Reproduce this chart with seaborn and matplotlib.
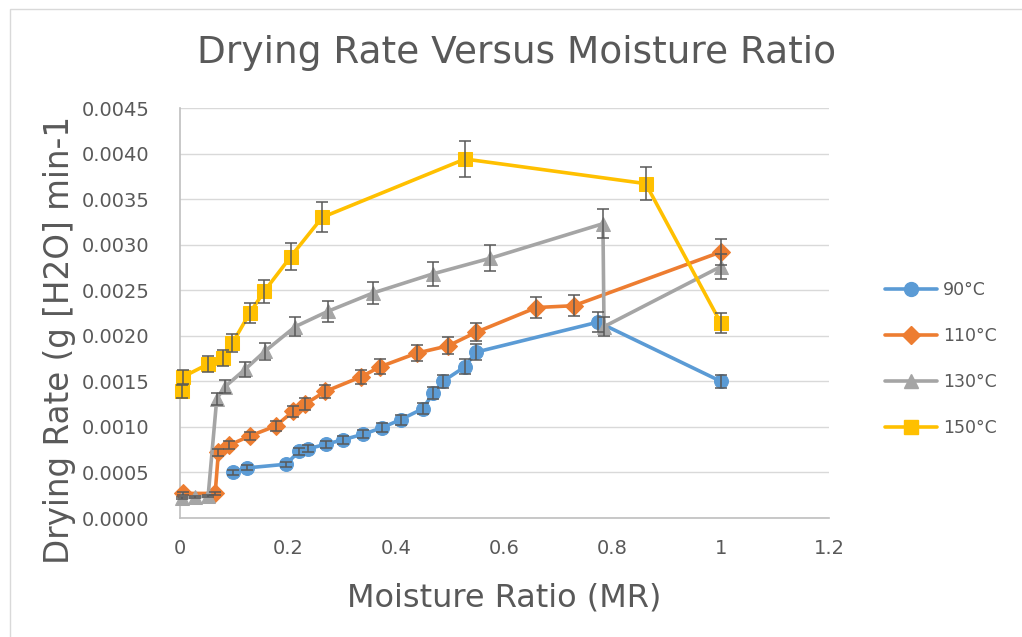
import numpy as np
import pandas as pd
import seaborn as sns
import matplotlib
matplotlib.use("Agg")
import matplotlib.pyplot as plt
from matplotlib.lines import Line2D
from matplotlib.patches import Rectangle
from matplotlib.ticker import FuncFormatter, MultipleLocator

# Data
mr_90 = [0.098, 0.124, 0.196, 0.220, 0.237, 0.270, 0.302, 0.339, 0.373, 0.408, 0.449, 0.468, 0.486, 0.527, 0.547, 0.773, 1.0]
rate_90 = [0.00050, 0.00055, 0.00059, 0.00073, 0.00076, 0.00081, 0.00086, 0.00092, 0.00099, 0.00108, 0.00120, 0.00137, 0.00150, 0.00166, 0.00182, 0.00215, 0.00150]
err_90 = [0.000025, 0.000028, 0.00003, 0.000036, 0.000038, 0.00004, 0.000043, 0.000046, 0.00005, 0.000054, 0.00006, 0.000068, 0.000075, 0.000083, 0.000091, 0.000108, 0.000075]

mr_110 = [0.005, 0.065, 0.071, 0.091, 0.129, 0.177, 0.209, 0.231, 0.269, 0.335, 0.370, 0.438, 0.496, 0.548, 0.659, 0.728, 1.0]
rate_110 = [0.00027, 0.00027, 0.00072, 0.00080, 0.00090, 0.00101, 0.00117, 0.00125, 0.00139, 0.00155, 0.00166, 0.00181, 0.00189, 0.00204, 0.00231, 0.00233, 0.00292]
err_110 = [0.000014, 0.000014, 0.000036, 0.00004, 0.000045, 0.00005, 0.000058, 0.000063, 0.00007, 0.000078, 0.000083, 0.00009, 0.000095, 0.0001, 0.000115, 0.000117, 0.000146]

mr_130 = [0.003, 0.028, 0.052, 0.068, 0.083, 0.120, 0.157, 0.213, 0.274, 0.357, 0.468, 0.573, 0.782, 0.784, 1.0]
rate_130 = [0.00022, 0.00023, 0.00024, 0.00131, 0.00144, 0.00163, 0.00183, 0.00210, 0.00227, 0.00247, 0.00268, 0.00285, 0.00323, 0.00210, 0.00276]
err_130 = [0.000011, 0.000012, 0.000012, 0.000066, 0.000072, 0.000082, 0.000092, 0.000105, 0.000114, 0.000124, 0.000134, 0.000143, 0.00016, 0.000105, 0.000138]

mr_150 = [0.003, 0.006, 0.052, 0.079, 0.097, 0.129, 0.156, 0.205, 0.263, 0.527, 0.861, 1.0]
rate_150 = [0.00139, 0.00155, 0.00169, 0.00176, 0.00192, 0.00225, 0.00249, 0.00287, 0.00330, 0.00394, 0.00367, 0.00214]
err_150 = [0.00007, 0.000078, 0.000085, 0.000088, 0.000096, 0.000113, 0.000125, 0.000143, 0.000165, 0.000197, 0.000184, 0.000107]

temps = ["90°C", "110°C", "130°C", "150°C"]
colors = ["#5B9BD5", "#ED7D31", "#A5A5A5", "#FFC000"]
markers = ["o", "D", "^", "s"]
marker_sizes = [10, 9, 10, 10]

series = [(mr_90, rate_90, err_90), (mr_110, rate_110, err_110),
          (mr_130, rate_130, err_130), (mr_150, rate_150, err_150)]

# Long-format table for seaborn
frames = []
for t, (x, y, e) in zip(temps, series):
    frames.append(pd.DataFrame({"MR": x, "Rate": y, "Err": e, "Temp": t}))
df = pd.concat(frames, ignore_index=True)

sns.set_style("white")
plt.rcParams["font.family"] = ["DejaVu Sans"]
text_col = "#595959"

fig = plt.figure(figsize=(10.22, 6.37), dpi=100)
ax = fig.add_axes([180 / 1022, 1 - 518 / 637, 649 / 1022, 410 / 637])

for i, t in enumerate(temps):
    sub = df[df["Temp"] == t]
    sns.lineplot(data=sub, x="MR", y="Rate", color=colors[i], marker=markers[i],
                 markersize=marker_sizes[i], markeredgecolor=colors[i], linewidth=2.6,
                 estimator=None, sort=False, ax=ax, zorder=3 + i, clip_on=False)
    ax.errorbar(sub["MR"], sub["Rate"], yerr=sub["Err"], fmt="none", ecolor="#595959",
                elinewidth=1.1, capsize=4.3, capthick=1.1, zorder=10, clip_on=False)

ax.set_xlim(0, 1.2)
ax.set_ylim(0, 0.0045)
ax.xaxis.set_major_locator(MultipleLocator(0.2))
ax.yaxis.set_major_locator(MultipleLocator(0.0005))
ax.xaxis.set_major_formatter(FuncFormatter(lambda v, p: f"{round(v, 1):g}"))
ax.yaxis.set_major_formatter(FuncFormatter(lambda v, p: f"{v:.4f}"))
ax.grid(axis="y", color="#D9D9D9", linewidth=1.0)
ax.grid(axis="x", visible=False)
ax.set_axisbelow(True)
for s in ["top", "right"]:
    ax.spines[s].set_visible(False)
for s in ["left", "bottom"]:
    ax.spines[s].set_color("#BFBFBF")
    ax.spines[s].set_linewidth(1.2)
ax.tick_params(axis="both", length=0, labelsize=14, labelcolor=text_col)
ax.tick_params(axis="y", pad=22)
ax.tick_params(axis="x", pad=15)

ax.set_xlabel("Moisture Ratio (MR)", fontsize=23, color=text_col, labelpad=18)
ax.set_ylabel("")
fig.text(60 / 1022, 1 - 340 / 637, "Drying Rate (g [H2O] min-1", fontsize=23.5,
         color=text_col, ha="center", va="center", rotation=90)
fig.text(517 / 1022, 1 - 53 / 637, "Drying Rate Versus Moisture Ratio", fontsize=27,
         color=text_col, ha="center", va="center")
if ax.get_legend() is not None:
    ax.get_legend().remove()

handles = [Line2D([], [], color=c, marker=m, markersize=ms, linewidth=2.6, markeredgecolor=c)
           for c, m, ms in zip(colors, markers, marker_sizes)]
leg = fig.legend(handles, temps, loc="center left", bbox_to_anchor=(885 / 1022, 1 - 359 / 637),
                 frameon=False, fontsize=12.5, handlelength=3.0, handletextpad=0.35,
                 labelspacing=1.6, borderpad=0, borderaxespad=0)
for txt in leg.get_texts():
    txt.set_color(text_col)

fig.patches.append(Rectangle((10 / 1022, -0.1), 1.2, 1.1 - 9 / 637, transform=fig.transFigure,
                             fill=False, edgecolor="#D9D9D9", linewidth=1.0))

fig.savefig("out.png", dpi=100)
